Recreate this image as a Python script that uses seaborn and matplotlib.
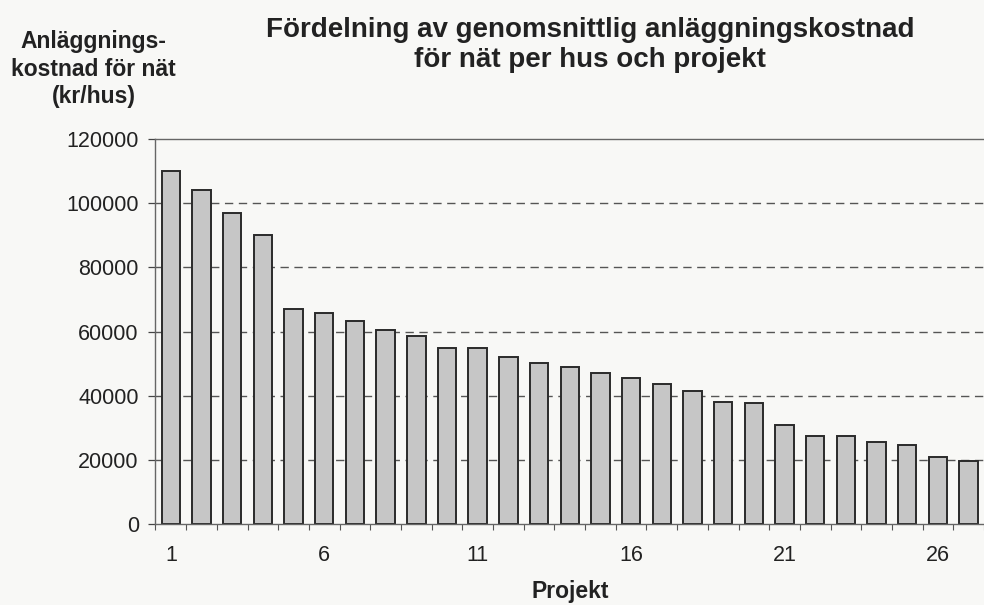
import matplotlib
matplotlib.use("Agg")
import matplotlib.pyplot as plt
import numpy as np
import pandas as pd
import seaborn as sns

projekt = list(range(1, 28))
kostnad = [110000, 104000, 97000, 90200, 66900, 65800, 63300, 60400, 58600,
           55000, 55000, 52000, 50200, 48900, 47200, 45400, 43600, 41600,
           38100, 37600, 31000, 27400, 27400, 25600, 24500, 20800, 19600]
y_ticks = [0, 20000, 40000, 60000, 80000, 100000, 120000]
x_labels = ["1", "6", "11", "16", "21", "26"]


def main():
    df = pd.DataFrame({"Projekt": projekt, "Kostnad": kostnad})

    sns.set_theme(style="white")
    plt.rcParams["font.family"] = ["Liberation Sans", "DejaVu Sans"]

    bg = "#f8f8f6"
    fig = plt.figure(figsize=(9.84, 6.05), dpi=100)
    fig.patch.set_facecolor(bg)
    ax = fig.add_axes([0.158, 0.134, 0.842, 0.636])
    ax.set_facecolor(bg)

    for v in y_ticks[1:-1]:
        ax.axhline(v, color="#555555", lw=1.0, ls=(0, (6, 4)), zorder=0)

    sns.barplot(data=df, x="Projekt", y="Kostnad", ax=ax, color="#c6c6c6",
                edgecolor="#2a2a2a", linewidth=1.4, width=0.6, saturation=1,
                zorder=2)

    ax.set_xlim(-0.5, len(projekt) - 0.5)
    ax.set_ylim(0, 120000)
    ax.set_yticks(y_ticks)
    ax.set_yticklabels([str(v) for v in y_ticks])
    ax.set_xticks([0, 5, 10, 15, 20, 25])
    ax.set_xticklabels(x_labels)
    ax.set_xticks(np.arange(-0.5, len(projekt), 1.0), minor=True)
    ax.tick_params(axis="x", which="major", length=0, pad=15, labelsize=15.5,
                   colors="#222222")
    ax.tick_params(axis="x", which="minor", length=4, width=0.8,
                   color="#555555", bottom=True)
    ax.tick_params(axis="y", length=5, width=0.9, left=True, color="#444444",
                   labelsize=15.5, colors="#222222", pad=7)

    ax.set_xlabel("")
    ax.set_ylabel("")

    for side in ["left", "top", "bottom"]:
        ax.spines[side].set_color("#666666")
        ax.spines[side].set_linewidth(1.0)
    ax.spines["right"].set_visible(False)

    fig.text(0.60, 0.972, "Fördelning av genomsnittlig anläggningskostnad\nför nät per hus och projekt",
             ha="center", va="top", fontsize=20, fontweight="bold",
             color="#222222", linespacing=1.22)
    fig.text(0.095, 0.95, "Anläggnings-\nkostnad för nät\n(kr/hus)",
             ha="center", va="top", fontsize=16.5, fontweight="bold",
             color="#222222", linespacing=1.25)
    fig.text(0.58, 0.022, "Projekt", ha="center", va="center",
             fontsize=16.5, fontweight="bold", color="#222222")

    fig.savefig("out.png", dpi=100, facecolor=bg)
    plt.close(fig)


if __name__ == "__main__":
    main()
